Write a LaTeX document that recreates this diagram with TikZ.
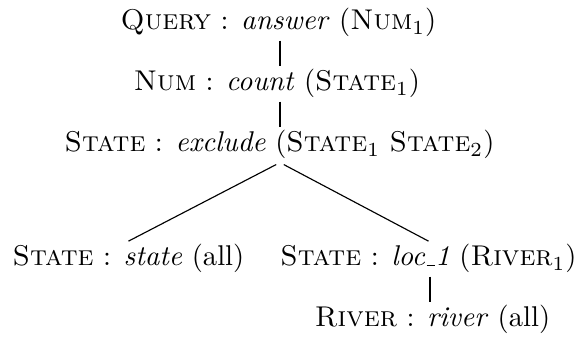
\documentclass[tikz,border=0pt]{standalone}
\usepackage{tikz}
\usetikzlibrary{calc, positioning}

\newcommand{\usc}{\leavevmode\kern.06em\vbox{\hrule width.3em}}

\tikzset{
    rule/.style={anchor=base, inner xsep=0pt, inner ysep=1pt,
        text height=7.5pt, text depth=2.5pt},
    unary/.style={line width=0.7pt},
    branch/.style={line width=0.4pt, shorten <=1.5pt}
}

\begin{document}
\begin{tikzpicture}[x=0.35pt, y=-0.35pt]
    \useasboundingbox (0, 0) rectangle (579, 338);

    % top chain
    \node[rule] (query) at (278.5, 30) {\textsc{Query} : \textit{answer} (\textsc{Num}$_1$)};
    \node[rule] (num) at (277, 91) {\textsc{Num} : \textit{count} (\textsc{State}$_1$)};
    \node[rule] (excl) at (279.5, 152) {\textsc{State} : \textit{exclude} (\textsc{State}$_1$ \textsc{State}$_2$)};

    % children
    \node[rule] (state) at (128.5, 266) {\textsc{State} : \textit{state} (all)};
    \node[rule] (loc) at (428.5, 266) {\textsc{State} : \textit{loc\usc 1} (\textsc{River}$_1$)};
    \node[rule] (river) at (432.5, 327) {\textsc{River} : \textit{river} (all)};

    % edges
    \draw[unary] (query.south -| 280, 0) -- (num.north -| 280, 0);
    \draw[unary] (num.south -| 280, 0) -- (excl.north -| 280, 0);
    \draw[branch] (excl.south -| 280, 0) -- (state.north);
    \draw[branch] (excl.south -| 280, 0) -- (loc.north);
    \draw[unary] (loc.south -| 430, 0) -- (river.north -| 430, 0);
\end{tikzpicture}
\end{document}
